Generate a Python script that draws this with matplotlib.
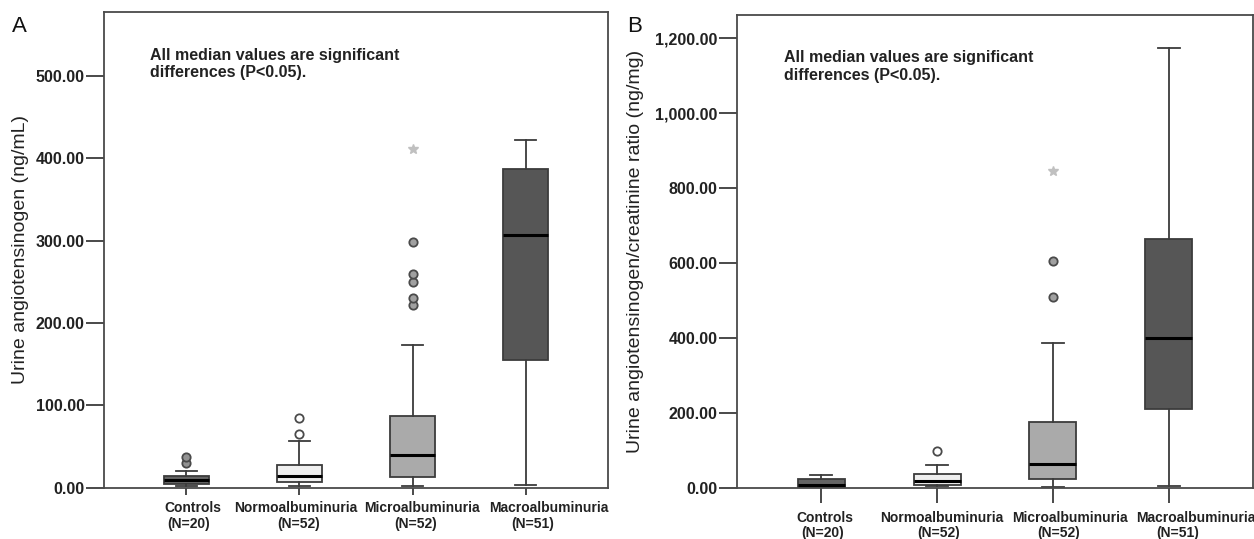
import numpy as np
import matplotlib.pyplot as plt
from matplotlib.ticker import FuncFormatter
from matplotlib.transforms import offset_copy

plt.rcParams['font.family'] = ['Liberation Sans', 'DejaVu Sans']

groups = ['Controls', 'Normoalbuminuria', 'Microalbuminuria', 'Macroalbuminuria']
counts = [20, 52, 52, 51]
box_colors = ['#646464', '#efefef', '#aaaaaa', '#565656']
flier_colors = ['#929292', '#ffffff', '#a0a0a0', '#a0a0a0']

# panel A: urine angiotensinogen (ng/mL)
a_low = [1.8, 2.2, 1.8, 3]
a_q1 = [4.3, 6.3, 12.4, 155]
a_med = [8.7, 13.6, 39.5, 307]
a_q3 = [13.6, 27, 87, 387]
a_high = [19.7, 57, 173.5, 423]
a_out = [[29.4, 36.7], [64.7, 84], [222, 230, 250, 260, 299], []]
a_ext = [[], [], [411.5], []]

# panel B: urine angiotensinogen/creatinine ratio (ng/mg)
b_low = [0.5, 3, 0.5, 5]
b_q1 = [2, 7, 24, 210]
b_med = [7, 17, 63, 398]
b_q3 = [24, 35, 175, 664]
b_high = [34, 60, 387, 1174]
b_out = [[], [97.5], [509, 606], []]
b_ext = [[], [], [846], []]

note = 'All median values are significant\ndifferences (P<0.05).'
edge = '#3c3c3c'


def draw_panel(ax, low, q1, med, q3, high, out, ext, ymax, ticks, xtick_len,
               name_dx, name_dy):
    stats = []
    for i in range(4):
        stats.append(dict(whislo=low[i], q1=q1[i], med=med[i], q3=q3[i],
                          whishi=high[i], fliers=[]))
    pos = np.arange(1, 5)
    bp = ax.bxp(stats, positions=pos, widths=0.405, capwidths=0.19,
                patch_artist=True, showfliers=False,
                boxprops=dict(edgecolor=edge, linewidth=1.3),
                whiskerprops=dict(color=edge, linewidth=1.3),
                capprops=dict(color=edge, linewidth=1.3),
                medianprops=dict(color='black', linewidth=2.2))
    for patch, c in zip(bp['boxes'], box_colors):
        patch.set_facecolor(c)
    for i in range(4):
        if out[i]:
            ax.plot([pos[i]] * len(out[i]), out[i], 'o', ms=6, mew=1.3,
                    mfc=flier_colors[i], mec='#4a4a4a', zorder=3)
        if ext[i]:
            ax.plot([pos[i]] * len(ext[i]), ext[i], '*', ms=7,
                    color='#c0c0c0', zorder=3)
    ax.set_xlim(0.27, 4.73)
    ax.set_ylim(0, ymax)
    ax.set_yticks(ticks)
    ax.yaxis.set_major_formatter(FuncFormatter(lambda v, p: f'{v:,.2f}'))
    ax.set_xticks(pos)
    ax.set_xticklabels([])
    # category names, nudged sideways so that neighbours do not collide
    base = ax.get_xaxis_transform()
    for i in range(4):
        tr1 = offset_copy(base, fig=ax.figure, x=name_dx[i], y=-name_dy,
                          units='dots')
        tr2 = offset_copy(base, fig=ax.figure, x=name_dx[i] / 3,
                          y=-name_dy - 16, units='dots')
        ax.text(pos[i], 0, groups[i], transform=tr1, ha='center',
                va='center', fontsize=10, fontweight='bold', color='#222222',
                clip_on=False)
        ax.text(pos[i], 0, f'(N={counts[i]})', transform=tr2, ha='center',
                va='center', fontsize=10, fontweight='bold', color='#222222',
                clip_on=False)
    ax.tick_params(axis='x', length=xtick_len, width=1.3, color=edge)
    ax.tick_params(axis='y', length=13, width=1.3, color=edge, pad=1,
                   labelsize=11.5)
    for lab in ax.get_yticklabels():
        lab.set_fontweight('bold')
        lab.set_color('#222222')
    for s in ax.spines.values():
        s.set_color('#4a4a4a')
        s.set_linewidth(1.3)
    ax.text(0.092, 0.925, note, transform=ax.transAxes, fontsize=11.5,
            fontweight='bold', color='#222222', va='top', linespacing=1.2)


W, H = 1254, 539
fig = plt.figure(figsize=(W / 100, H / 100), dpi=100)

axA = fig.add_axes([104 / W, 1 - 487.5 / H, 504 / W, 475.5 / H])
draw_panel(axA, a_low, a_q1, a_med, a_q3, a_high, a_out, a_ext,
           578, [0, 100, 200, 300, 400, 500], 5, [6, -4, 9, 23], 20.5)

axB = fig.add_axes([737 / W, 1 - 487.5 / H, 516 / W, 472.5 / H])
draw_panel(axB, b_low, b_q1, b_med, b_q3, b_high, b_out, b_ext,
           1262, [0, 200, 400, 600, 800, 1000, 1200], 11, [3, 5, 17, 27], 30)

fig.text(21 / W, 1 - 250 / H, 'Urine angiotensinogen (ng/mL)', rotation=90,
         ha='center', va='center', fontsize=14, color='#222222')
fig.text(636 / W, 1 - 251 / H,
         'Urine angiotensinogen/creatinine ratio (ng/mg)', rotation=90,
         ha='center', va='center', fontsize=14, color='#222222')
fig.text(12 / W, 1 - 32 / H, 'A', fontsize=16, color='#111111')
fig.text(627 / W, 1 - 32 / H, 'B', fontsize=16, color='#111111')

fig.savefig('out.png', dpi=100)
